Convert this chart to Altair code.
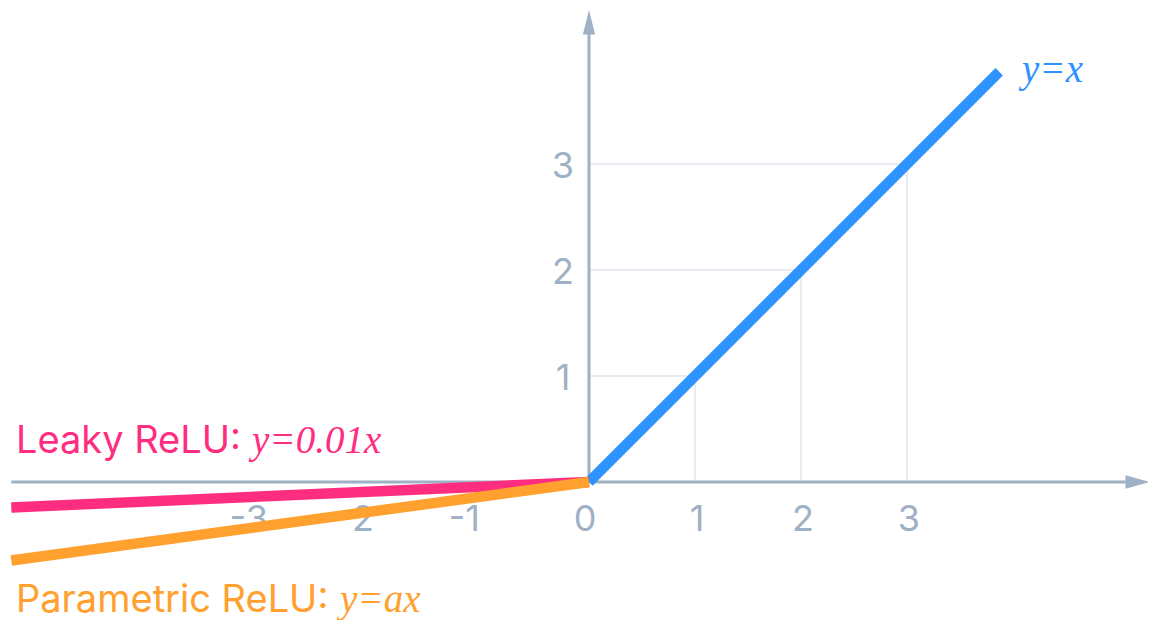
import altair as alt
import pandas as pd

# ---- data ----
relu_x = [0.0, 3.87]
relu_y = [0.0, 3.87]
leaky_x = [-5.45, 0.0]
leaky_y = [-0.24, 0.0]
param_x = [-5.45, 0.0]
param_y = [-0.74, 0.0]

grid_vals = [1, 2, 3]
x_tick_vals = [-3, -2, -1, 0, 1, 2, 3]
x_tick_text = ["-3", "-2", "-1", "0", "1", "2", "3"]
y_tick_vals = [1, 2, 3]
y_tick_text = ["1", "2", "3"]

axis_x_range = [-5.45, 5.29]
axis_y_range = [0.0, 4.45]

# annotation texts
ann_sans_text = ["Leaky ReLU:", "Parametric ReLU:"]
ann_sans_x = [-5.406, -5.406]
ann_sans_y = [0.274, -1.226]
ann_sans_color = ["#FF2D7F", "#FFA02F"]
ann_serif_text = ["y=0.01x", "y=ax", "y=x"]
ann_serif_x = [-3.179, -2.349, 4.085]
ann_serif_y = [0.274, -1.226, 3.774]
ann_serif_color = ["#FF2D7F", "#FFA02F", "#2E93FF"]

X_DOMAIN = [-5.4811, 5.2736]
Y_DOMAIN = [-1.3019, 4.4717]

AXIS_COLOR = "#9FB1C4"
GRID_COLOR = "#DFE6EE"
SANS = "Inter"
SERIF = "Liberation Serif"

xs = alt.Scale(domain=X_DOMAIN, nice=False, zero=False)
ys = alt.Scale(domain=Y_DOMAIN, nice=False, zero=False)


def X(f="x"):
    return alt.X(f"{f}:Q", scale=xs, axis=None)


def Y(f="y"):
    return alt.Y(f"{f}:Q", scale=ys, axis=None)


grid_df = pd.DataFrame({"v": grid_vals, "zero": [0] * len(grid_vals)})
vgrid = alt.Chart(grid_df).mark_rule(color=GRID_COLOR, strokeWidth=1.5).encode(
    x=alt.X("v:Q", scale=xs, axis=None),
    y=alt.Y("zero:Q", scale=ys, axis=None),
    y2="v:Q",
)
hgrid = alt.Chart(grid_df).mark_rule(color=GRID_COLOR, strokeWidth=1.5).encode(
    y=alt.Y("v:Q", scale=ys, axis=None),
    x=alt.X("zero:Q", scale=xs, axis=None),
    x2="v:Q",
)

xaxis_df = pd.DataFrame({"x": [axis_x_range[0]], "x2": [axis_x_range[1]], "y": [0.0]})
xaxis = alt.Chart(xaxis_df).mark_rule(color=AXIS_COLOR, strokeWidth=3, x2Offset=-10).encode(
    x=X(), x2="x2:Q", y=Y()
)
xarrow = alt.Chart(pd.DataFrame({"x": [axis_x_range[1]], "y": [0.0]})).mark_point(
    shape="M1,0L-1,0.55L-1,-0.55Z", filled=True, size=600, color=AXIS_COLOR, opacity=1, xOffset=-12
).encode(x=X(), y=Y())

yaxis_df = pd.DataFrame({"x": [0.0], "y": [axis_y_range[0]], "y2": [axis_y_range[1]]})
yaxis = alt.Chart(yaxis_df).mark_rule(color=AXIS_COLOR, strokeWidth=3, y2Offset=10).encode(
    x=X(), y=Y(), y2="y2:Q"
)
yarrow = alt.Chart(pd.DataFrame({"x": [0.0], "y": [axis_y_range[1]]})).mark_point(
    shape="M0,-1L0.5,1L-0.5,1Z", filled=True, size=600, color=AXIS_COLOR, opacity=1, yOffset=12
).encode(x=X(), y=Y())

xt_df = pd.DataFrame({"x": x_tick_vals, "t": x_tick_text, "y": [0.0] * len(x_tick_vals)})
xticks_neg = alt.Chart(xt_df).transform_filter("datum.x < 0").mark_text(
    font=SANS, fontSize=36, color=AXIS_COLOR, baseline="middle", align="right", dx=-3, dy=38
).encode(x=X(), y=Y(), text="t:N")
xticks_zero = alt.Chart(xt_df).transform_filter("datum.x == 0").mark_text(
    font=SANS, fontSize=36, color=AXIS_COLOR, baseline="middle", align="center", dx=-4, dy=38
).encode(x=X(), y=Y(), text="t:N")
xticks_pos = alt.Chart(xt_df).transform_filter("datum.x > 0").mark_text(
    font=SANS, fontSize=36, color=AXIS_COLOR, baseline="middle", align="center", dx=2, dy=38
).encode(x=X(), y=Y(), text="t:N")

yt_df = pd.DataFrame({"y": y_tick_vals, "t": y_tick_text, "x": [0.0] * len(y_tick_vals)})
yticks = alt.Chart(yt_df).mark_text(
    font=SANS, fontSize=36, color=AXIS_COLOR, baseline="middle", align="center", dx=-26, dy=3
).encode(x=X(), y=Y(), text="t:N")


def line(xv, yv, color):
    df = pd.DataFrame({"x": xv, "y": yv})
    return alt.Chart(df).mark_line(color=color, strokeWidth=10.5, strokeCap="butt").encode(
        x=X(), y=Y()
    )


blue = line(relu_x, relu_y, "#2E93FF")
pink = line(leaky_x, leaky_y, "#FF2D7F")
orange = line(param_x, param_y, "#FFA02F")

sans_df = pd.DataFrame({"x": ann_sans_x, "y": ann_sans_y, "t": ann_sans_text, "c": ann_sans_color})
sans_txt = alt.Chart(sans_df).mark_text(
    font=SANS, fontSize=38, align="left", baseline="alphabetic"
).encode(x=X(), y=Y(), text="t:N", color=alt.Color("c:N", scale=None))

serif_df = pd.DataFrame({"x": ann_serif_x, "y": ann_serif_y, "t": ann_serif_text, "c": ann_serif_color})
serif_txt = alt.Chart(serif_df).mark_text(
    font=SERIF, fontSize=39, fontStyle="italic", align="left", baseline="alphabetic"
).encode(x=X(), y=Y(), text="t:N", color=alt.Color("c:N", scale=None))

chart = alt.layer(
    vgrid, hgrid, xaxis, xarrow, yaxis, yarrow,
    xticks_neg, xticks_zero, xticks_pos, yticks,
    blue, pink, orange, sans_txt, serif_txt
).properties(
    width=1140, height=612, padding=0, autosize=alt.AutoSizeParams(type="none"), background="white"
).configure_view(stroke=None)

chart.save("out.html", embed_options={"renderer": "svg", "actions": False})
